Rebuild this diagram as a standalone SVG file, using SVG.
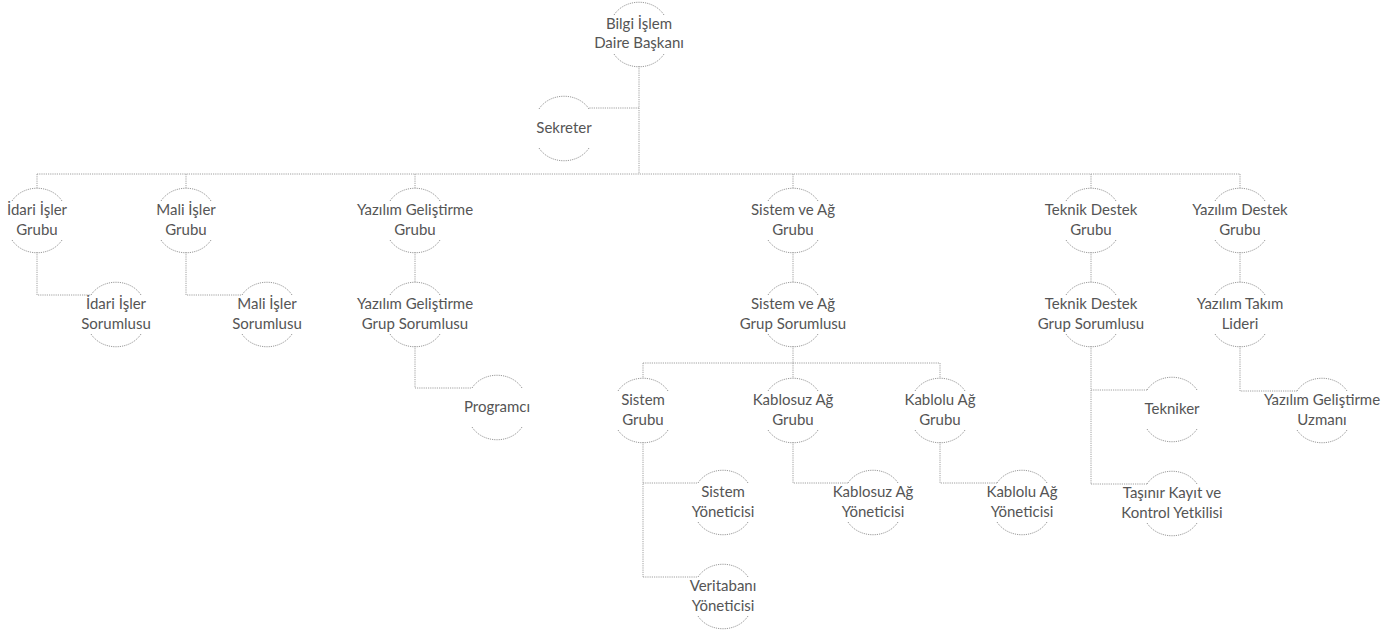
<svg xmlns="http://www.w3.org/2000/svg" xmlns:xlink="http://www.w3.org/1999/xlink" width="1394" height="635" viewBox="0 0 1394 635">
<style>
.ring path{fill:none;stroke:#9a9a9a;stroke-width:1;stroke-dasharray:1.2 1}
.conn path{fill:none;stroke:#a0a0a0;stroke-width:1;stroke-dasharray:1.2 1}
text{font-family:Lato,"Open Sans","Liberation Sans",sans-serif;font-size:15px;fill:#555555;text-anchor:middle}
</style>
<defs>
<g id="ring" class="ring"><path d="M-25,-19 C-14,-36 14,-36 25,-19"/><path d="M-25,20 C-14,37 14,37 25,20"/></g>
</defs>
<rect width="1394" height="635" fill="#ffffff"/>
<g id="connectors" class="conn">
<path d="M639,66 V174"/>
<path d="M639,108 H589"/>
<path d="M37,174 H1240"/>
<path d="M37,174 V188 M186,174 V188 M415,174 V188 M793,174 V188 M1091,174 V188 M1240,174 V188"/>
<path d="M37,252 V295 H91"/>
<path d="M186,252 V295 H242"/>
<path d="M415,252 V282 M793,252 V282 M1091,252 V282 M1240,252 V282"/>
<path d="M415,346 V388 H472"/>
<path d="M793,346 V363 M643,363 H940 M643,363 V378 M793,363 V378 M940,363 V378"/>
<path d="M643,442 V577 M643,483 H698 M643,577 H698"/>
<path d="M793,442 V483 H848"/>
<path d="M940,442 V483 H997"/>
<path d="M1091,346 V484 M1091,390 H1147 M1091,484 H1147"/>
<path d="M1240,346 V391 H1297"/>
</g>
<g id="n-root" transform="translate(639,34)"><use xlink:href="#ring"/><text y="-5">Bilgi İşlem</text><text y="14">Daire Başkanı</text></g>
<g id="n-sekreter" transform="translate(564,128)"><use xlink:href="#ring"/><text y="5">Sekreter</text></g>
<g id="n-idari" transform="translate(37,220)"><use xlink:href="#ring"/><text y="-5">İdari İşler</text><text y="15">Grubu</text></g>
<g id="n-mali" transform="translate(186,220)"><use xlink:href="#ring"/><text y="-5">Mali İşler</text><text y="15">Grubu</text></g>
<g id="n-yazgel" transform="translate(415,220)"><use xlink:href="#ring"/><text y="-5">Yazılım Geliştirme</text><text y="15">Grubu</text></g>
<g id="n-sisag" transform="translate(793,220)"><use xlink:href="#ring"/><text y="-5">Sistem ve Ağ</text><text y="15">Grubu</text></g>
<g id="n-teknik" transform="translate(1091,220)"><use xlink:href="#ring"/><text y="-5">Teknik Destek</text><text y="15">Grubu</text></g>
<g id="n-yazdes" transform="translate(1240,220)"><use xlink:href="#ring"/><text y="-5">Yazılım Destek</text><text y="15">Grubu</text></g>
<g id="n-idari-sor" transform="translate(116,314)"><use xlink:href="#ring"/><text y="-5">İdari İşler</text><text y="15">Sorumlusu</text></g>
<g id="n-mali-sor" transform="translate(267,314)"><use xlink:href="#ring"/><text y="-5">Mali İşler</text><text y="15">Sorumlusu</text></g>
<g id="n-yazgel-sor" transform="translate(415,314)"><use xlink:href="#ring"/><text y="-5">Yazılım Geliştirme</text><text y="15">Grup Sorumlusu</text></g>
<g id="n-sisag-sor" transform="translate(793,314)"><use xlink:href="#ring"/><text y="-5">Sistem ve Ağ</text><text y="15">Grup Sorumlusu</text></g>
<g id="n-teknik-sor" transform="translate(1091,314)"><use xlink:href="#ring"/><text y="-5">Teknik Destek</text><text y="15">Grup Sorumlusu</text></g>
<g id="n-takim" transform="translate(1240,314)"><use xlink:href="#ring"/><text y="-5">Yazılım Takım</text><text y="15">Lideri</text></g>
<g id="n-programci" transform="translate(497,407)"><use xlink:href="#ring"/><text y="5">Programcı</text></g>
<g id="n-sistem" transform="translate(643,410)"><use xlink:href="#ring"/><text y="-5">Sistem</text><text y="15">Grubu</text></g>
<g id="n-kablosuz" transform="translate(793,410)"><use xlink:href="#ring"/><text y="-5">Kablosuz Ağ</text><text y="15">Grubu</text></g>
<g id="n-kablolu" transform="translate(940,410)"><use xlink:href="#ring"/><text y="-5">Kablolu Ağ</text><text y="15">Grubu</text></g>
<g id="n-tekniker" transform="translate(1172,409)"><use xlink:href="#ring"/><text y="5">Tekniker</text></g>
<g id="n-uzman" transform="translate(1322,410)"><use xlink:href="#ring"/><text y="-5">Yazılım Geliştirme</text><text y="15">Uzmanı</text></g>
<g id="n-sistem-yon" transform="translate(723,502)"><use xlink:href="#ring"/><text y="-5">Sistem</text><text y="15">Yöneticisi</text></g>
<g id="n-kablosuz-yon" transform="translate(873,502)"><use xlink:href="#ring"/><text y="-5">Kablosuz Ağ</text><text y="15">Yöneticisi</text></g>
<g id="n-kablolu-yon" transform="translate(1022,502)"><use xlink:href="#ring"/><text y="-5">Kablolu Ağ</text><text y="15">Yöneticisi</text></g>
<g id="n-tasinir" transform="translate(1172,503)"><use xlink:href="#ring"/><text y="-5">Taşınır Kayıt ve</text><text y="15">Kontrol Yetkilisi</text></g>
<g id="n-veritabani" transform="translate(723,596)"><use xlink:href="#ring"/><text y="-5">Veritabanı</text><text y="15">Yöneticisi</text></g>
</svg>
